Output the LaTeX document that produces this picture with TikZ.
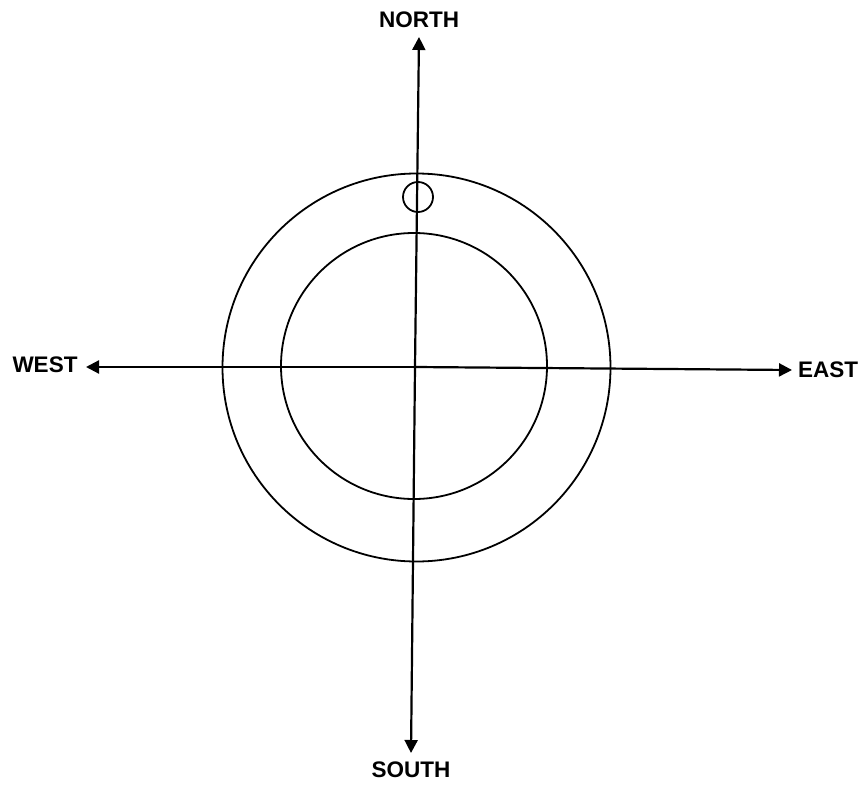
\documentclass[tikz,border=0pt]{standalone}
\usepackage{fontspec}
\setmainfont{Liberation Sans}
\usetikzlibrary{arrows.meta}
\begin{document}
\begin{tikzpicture}[x=1pt,y=-1pt,
  axis/.style={line width=2.2pt,-{Triangle[length=13pt,width=13pt]}},
  ring/.style={line width=1.8pt},
  lbl/.style={font=\fontsize{22.5}{23}\selectfont\bfseries, inner sep=0pt}]
\useasboundingbox (0,0) rectangle (865,787);
\coordinate (C) at (415,367);
\coordinate (Ntip) at (419,37);
\coordinate (Stip) at (411,753);
\coordinate (Wtip) at (86,367);
\coordinate (Etip) at (792,370);
\draw[ring] (416.5,367.5) circle (194);
\draw[ring] (414,366) circle (133);
\draw[ring] (418,197) circle (15);
\draw[axis] (C) -- (Ntip);
\draw[axis] (C) -- (Stip);
\draw[axis] (C) -- (Wtip);
\draw[axis] (C) -- (Etip);
\node[lbl] (north) at (419,20) {NORTH};
\node[lbl] (south) at (411,770) {SOUTH};
\node[lbl] (west) at (45,365) {WEST};
\node[lbl] (east) at (828,370) {EAST};
\end{tikzpicture}
\end{document}
